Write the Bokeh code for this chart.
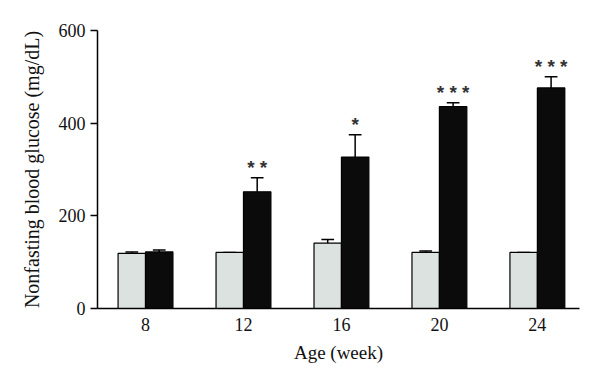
from bokeh.plotting import figure
from bokeh.models import FixedTicker, Range1d
from bokeh.embed import file_html
from bokeh.resources import INLINE
from bokeh.core.properties import value

weeks = ["8", "12", "16", "20", "24"]
control_mean = [119, 121, 141, 121, 121]
control_err = [3, 0, 8, 3, 0]
treated_mean = [122, 252, 327, 436, 476]
treated_err = [4, 30, 48, 8, 24]
stars = ["", "* *", "*", "* * *", "* * *"]

x = list(range(len(weeks)))
w = 0.28
xc = [i - w / 2 for i in x]
xt = [i + w / 2 for i in x]

p = figure(width=584, height=368, output_backend="svg", toolbar_location=None,
           x_range=Range1d(-0.49, 4.43), y_range=Range1d(0, 600),
           min_border_left=97, min_border_right=5, min_border_top=30, min_border_bottom=60)
p.outline_line_color = None
p.grid.grid_line_color = None
p.background_fill_color = "white"

# error bars
for xs, m, e in ((xc, control_mean, control_err), (xt, treated_mean, treated_err)):
    tops = [mi + ei for mi, ei in zip(m, e)]
    p.segment(x0=xs, y0=m, x1=xs, y1=tops, line_color="black", line_width=1.5)
    p.segment(x0=[xi - 0.065 for xi in xs], y0=tops, x1=[xi + 0.065 for xi in xs], y1=tops,
              line_color="black", line_width=1.5)

p.vbar(x=xc, top=control_mean, bottom=0, width=w, fill_color="#dce2e0", line_color="black", line_width=1.2)
p.vbar(x=xt, top=treated_mean, bottom=0, width=w, fill_color="#0b0b0b", line_color="black", line_width=1.2)

star_y = [m + e + 22 for m, e in zip(treated_mean, treated_err)]
p.text(x=xt, y=star_y, text=stars, text_align="center", text_baseline="middle",
       text_font=value("Liberation Sans"), text_font_size="19px", text_font_style="bold",
       text_color="#333333")

p.xaxis.ticker = FixedTicker(ticks=x)
p.xaxis.major_label_overrides = {i: wk for i, wk in enumerate(weeks)}
p.xaxis.major_tick_line_color = None
p.xaxis.minor_tick_line_color = None
p.yaxis.ticker = FixedTicker(ticks=[0, 200, 400, 600])
p.yaxis.minor_tick_line_color = None
p.yaxis.major_tick_out = 7
p.yaxis.major_tick_in = 0
for ax in (p.xaxis, p.yaxis):
    ax.axis_line_width = 1.5
    ax.major_tick_line_width = 1.5
    ax.major_label_text_font = "Liberation Serif"
    ax.major_label_text_font_size = "18px"
    ax.major_label_text_color = "#111111"
    ax.axis_label_text_font = "Liberation Serif"
    ax.axis_label_text_font_size = "19px"
    ax.axis_label_text_font_style = "normal"
    ax.axis_label_text_color = "#111111"
p.yaxis.axis_label_text_font_size = "20px"
p.xaxis.axis_label = "Age (week)"
p.yaxis.axis_label = "Nonfasting blood glucose (mg/dL)"
p.xaxis.major_label_standoff = 3
p.xaxis.axis_label_standoff = 8
p.yaxis.major_label_standoff = 5
p.yaxis.axis_label_standoff = 13

open("out.html", "w").write(file_html(p, INLINE))
